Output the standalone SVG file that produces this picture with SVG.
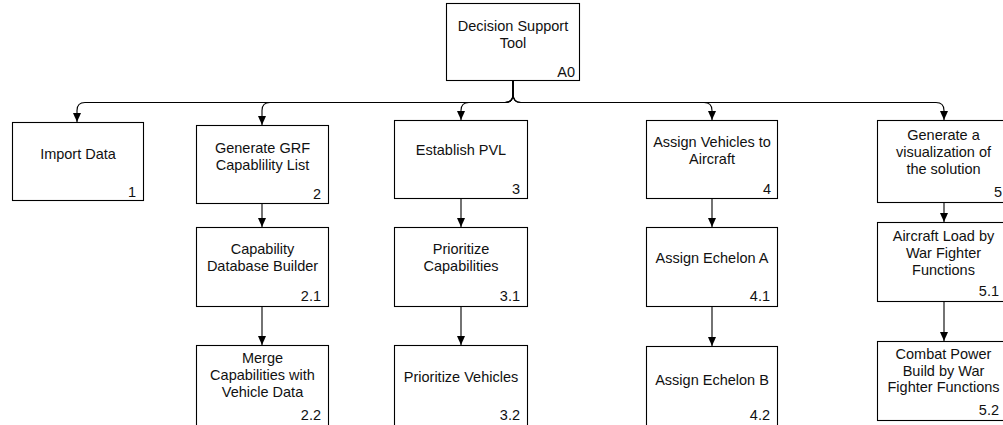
<svg xmlns="http://www.w3.org/2000/svg" width="1003" height="425" viewBox="0 0 1003 425">
<style>
.box{fill:#fff;stroke:#000;stroke-width:1.1}
.t{font-family:"Liberation Sans",Arial,sans-serif;font-size:14.5px;fill:#111;text-anchor:middle}
.n{font-family:"Liberation Sans",Arial,sans-serif;font-size:14.5px;fill:#111;text-anchor:end}
.c{fill:none;stroke:#000;stroke-width:1.1}
</style>
<defs>
<marker id="ah" markerUnits="userSpaceOnUse" markerWidth="9" markerHeight="8" viewBox="0 0 9 8" refX="9" refY="4" orient="auto">
<path d="M0,0 L9,4 L0,8 z" fill="#000"/>
</marker>
</defs>
<rect width="1003" height="425" fill="#fff"/>
<g id="connectors">
<path class="c" d="M513 81 V94 Q513 102.5 505 102.5 H85 Q77 102.5 77 110.5 V122" marker-end="url(#ah)"/>
<path class="c" d="M513 81 V94 Q513 102.5 505 102.5 H270 Q262 102.5 262 110.5 V125" marker-end="url(#ah)"/>
<path class="c" d="M513 81 V94 Q513 102.5 505 102.5 H469 Q461 102.5 461 110.5 V120" marker-end="url(#ah)"/>
<path class="c" d="M513 81 V94 Q513 102.5 521 102.5 H704 Q712 102.5 712 110.5 V120" marker-end="url(#ah)"/>
<path class="c" d="M513 81 V94 Q513 102.5 521 102.5 H936 Q944 102.5 944 110.5 V120" marker-end="url(#ah)"/>
<path class="c" d="M262 204 V227" marker-end="url(#ah)"/>
<path class="c" d="M262 307 V345" marker-end="url(#ah)"/>
<path class="c" d="M461 199 V227" marker-end="url(#ah)"/>
<path class="c" d="M461 307 V345" marker-end="url(#ah)"/>
<path class="c" d="M712 199 V227" marker-end="url(#ah)"/>
<path class="c" d="M712 307 V346" marker-end="url(#ah)"/>
<path class="c" d="M944 202 V222" marker-end="url(#ah)"/>
<path class="c" d="M944 302 V341" marker-end="url(#ah)"/>
</g>
<g id="A0">
<rect class="box" x="446.5" y="3.5" width="133" height="77"/>
<text class="t" x="513" y="31">Decision Support</text>
<text class="t" x="513" y="48">Tool</text>
<text class="n" x="575" y="77">A0</text>
</g>
<g id="n1">
<rect class="box" x="12.5" y="122.5" width="131" height="78"/>
<text class="t" x="78" y="159">Import Data</text>
<text class="n" x="136" y="197">1</text>
</g>
<g id="n2">
<rect class="box" x="196.5" y="125.5" width="132" height="78"/>
<text class="t" x="262.5" y="153">Generate GRF</text>
<text class="t" x="262.5" y="170">Capablility List</text>
<text class="n" x="321" y="199">2</text>
</g>
<g id="n2_1">
<rect class="box" x="196.5" y="227.5" width="132" height="79"/>
<text class="t" x="262.5" y="254">Capability</text>
<text class="t" x="262.5" y="271">Database Builder</text>
<text class="n" x="321" y="301">2.1</text>
</g>
<g id="n2_2">
<rect class="box" x="196.5" y="345.5" width="132" height="82"/>
<text class="t" x="262.5" y="363">Merge</text>
<text class="t" x="262.5" y="380">Capabilities with</text>
<text class="t" x="262.5" y="397">Vehicle Data</text>
<text class="n" x="321" y="420">2.2</text>
</g>
<g id="n3">
<rect class="box" x="394.5" y="120.5" width="133" height="78"/>
<text class="t" x="461" y="155">Establish PVL</text>
<text class="n" x="520" y="194">3</text>
</g>
<g id="n3_1">
<rect class="box" x="394.5" y="227.5" width="133" height="79"/>
<text class="t" x="461" y="254">Prioritize</text>
<text class="t" x="461" y="271">Capabilities</text>
<text class="n" x="520" y="301">3.1</text>
</g>
<g id="n3_2">
<rect class="box" x="394.5" y="345.5" width="133" height="82"/>
<text class="t" x="461" y="382">Prioritize Vehicles</text>
<text class="n" x="520" y="420">3.2</text>
</g>
<g id="n4">
<rect class="box" x="646.5" y="120.5" width="131" height="78"/>
<text class="t" x="712" y="147">Assign Vehicles to</text>
<text class="t" x="712" y="164">Aircraft</text>
<text class="n" x="771" y="194">4</text>
</g>
<g id="n4_1">
<rect class="box" x="646.5" y="227.5" width="131" height="79"/>
<text class="t" x="712" y="263">Assign Echelon A</text>
<text class="n" x="770" y="301">4.1</text>
</g>
<g id="n4_2">
<rect class="box" x="646.5" y="346.5" width="131" height="82"/>
<text class="t" x="712" y="385">Assign Echelon B</text>
<text class="n" x="770" y="420">4.2</text>
</g>
<g id="n5">
<rect class="box" x="877.5" y="120.5" width="132" height="82"/>
<text class="t" x="943.5" y="139.5">Generate a</text>
<text class="t" x="943.5" y="156.5">visualization of</text>
<text class="t" x="943.5" y="173.5">the solution</text>
<text class="n" x="1002" y="197">5</text>
</g>
<g id="n5_1">
<rect class="box" x="877.5" y="222.5" width="132" height="79"/>
<text class="t" x="943.5" y="241">Aircraft Load by</text>
<text class="t" x="943.5" y="258">War Fighter</text>
<text class="t" x="943.5" y="275">Functions</text>
<text class="n" x="999" y="296">5.1</text>
</g>
<g id="n5_2">
<rect class="box" x="877.5" y="341.5" width="132" height="79"/>
<text class="t" x="943.5" y="358.5">Combat Power</text>
<text class="t" x="943.5" y="375.5">Build by War</text>
<text class="t" x="943.5" y="392">Fighter Functions</text>
<text class="n" x="999" y="415">5.2</text>
</g>
</svg>
